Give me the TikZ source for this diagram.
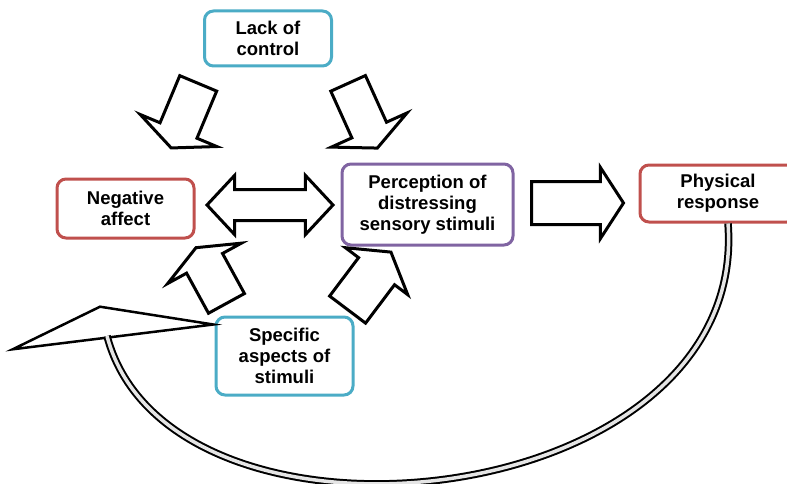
\documentclass[tikz,border=0pt]{standalone}
\usepackage{fontspec}
\setmainfont{Liberation Sans}
\usetikzlibrary{shapes.arrows}

\definecolor{boxblue}{HTML}{4BACC6}
\definecolor{boxred}{HTML}{C0504D}
\definecolor{boxpurple}{HTML}{8064A2}

\begin{document}
\begin{tikzpicture}[
    x=1pt, y=-1pt,
    every node/.style={font=\fontsize{18.5}{21}\selectfont\bfseries},
    box/.style={draw, rounded corners=9pt, line width=3pt, fill=white, align=center, inner sep=0pt},
    cause/.style={box, draw=boxblue},
    effect/.style={box, draw=boxred},
    percept/.style={box, draw=boxpurple},
    blockarrow/.style={single arrow, draw, line width=3pt, fill=white, inner xsep=0pt, line join=miter, anchor=tail},
    twoway/.style={double arrow, draw, line width=3pt, fill=white, inner xsep=0pt, line join=miter},
    loop/.style={line width=2pt, double=gray!20, double distance=3.5pt},
    loophead/.style={draw, line width=2.5pt, fill=white, line join=miter}
]
\useasboundingbox (0,0) rectangle (787,484);

\node[cause, minimum width=127pt, minimum height=55pt] (lack) at (268,38.5) {Lack of\\control};
\node[effect, minimum width=137pt, minimum height=59pt] (neg) at (125.5,208.5) {Negative\\affect};
\node[percept, minimum width=171pt, minimum height=81pt] (perc) at (427.5,204.5) {Perception of\\distressing\\sensory stimuli};
\node[effect, minimum width=156pt, minimum height=57pt] (resp) at (718,193.5) {Physical\\response};
\node[cause, minimum width=137pt, minimum height=78pt] (spec) at (284.5,356) {Specific\\aspects of\\stimuli};

% block arrows between the boxes
\node[blockarrow, rotate=247.3, inner ysep=18.5pt, minimum height=70pt, minimum width=80pt,
      single arrow head extend=21.5pt, single arrow tip angle=131] (lack2neg) at (198.8,82) {};
\node[blockarrow, rotate=294.3, inner ysep=17.5pt, minimum height=71pt, minimum width=80pt,
      single arrow head extend=22.5pt, single arrow tip angle=129] (lack2perc) at (347.5,82) {};
\node[blockarrow, rotate=118.7, inner ysep=19pt, minimum height=63.5pt, minimum width=81pt,
      single arrow head extend=21.5pt, single arrow tip angle=134] (spec2neg) at (227.2,304.7) {};
\node[blockarrow, rotate=53, inner ysep=21pt, minimum height=72pt, minimum width=75pt,
      single arrow head extend=16.5pt, single arrow tip angle=117] (spec2perc) at (346.7,310.8) {};
\node[blockarrow, inner ysep=20pt, minimum height=92pt, minimum width=68pt,
      single arrow head extend=14pt, single arrow tip angle=114] (perc2resp) at (530,203) {};
\node[twoway, inner ysep=14pt, minimum height=126pt, minimum width=56pt,
      double arrow head extend=14pt, double arrow tip angle=94] (neg2perc) at (270,205) {};

% feedback loop back to the left
\coordinate (headtop) at (100,306.7);
\coordinate (headtip) at (12.7,349.3);
\coordinate (headbarb) at (213.3,324.5);
\coordinate (loopend) at (107,336);
\draw[loophead] (headbarb) -- (headtop) -- (headtip) -- cycle;
\draw[loop] ([xshift=10pt]resp.south) .. controls (750,515) and (170,575) .. (loopend);
\end{tikzpicture}
\end{document}
